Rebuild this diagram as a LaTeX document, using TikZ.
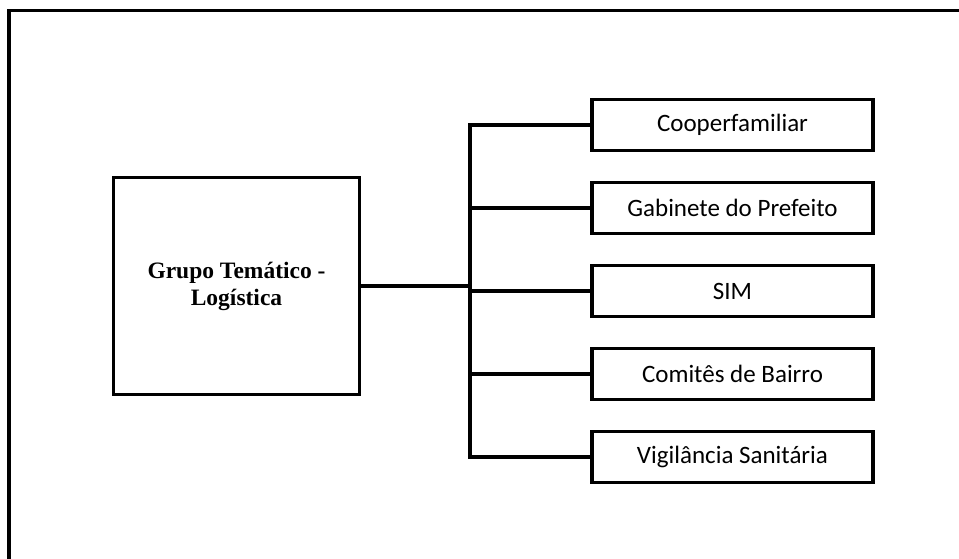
\documentclass[tikz,border=0pt]{standalone}
\usepackage{fontspec}
\setmainfont{Liberation Serif}
\newfontfamily\boxfont{Carlito}
\usetikzlibrary{positioning}

\begin{document}
\begin{tikzpicture}[x=1pt, y=1pt, node distance=32pt, line width=3.8pt, line cap=rect,
  every node/.style={align=center, outer sep=0pt},
  group/.style={draw, minimum width=246pt, minimum height=217pt, font=\fontsize{23.5}{27}\selectfont\bfseries},
  unit/.style={draw, minimum width=281pt, minimum height=51pt, font=\boxfont\fontsize{25}{28}\selectfont}]
\useasboundingbox (0,0) rectangle (959,-558);
% frame
\draw (9,-558) -- (9,-10.5) -- (962,-10.5);
\node[group] (theme) at (236.5,-286) {Grupo Temático -\\Logística};
\node[unit] (coop) at (732.5,-125) {Cooperfamiliar};
\node[unit,below=of coop] (cabinet) {Gabinete do Prefeito};
\node[unit,below=of cabinet] (sim) {SIM};
\node[unit,below=of sim] (committees) {Comitês de Bairro};
\node[unit,below=of committees] (health) {Vigilância Sanitária};
\coordinate (bus) at (470,0);
\draw (theme.east) -- (theme.east -| bus);
\draw (coop.west -| bus) -- (health.west -| bus);
\foreach \n in {coop,cabinet,sim,committees,health} \draw (\n.west) -- (\n.west -| bus);
\end{tikzpicture}
\end{document}
